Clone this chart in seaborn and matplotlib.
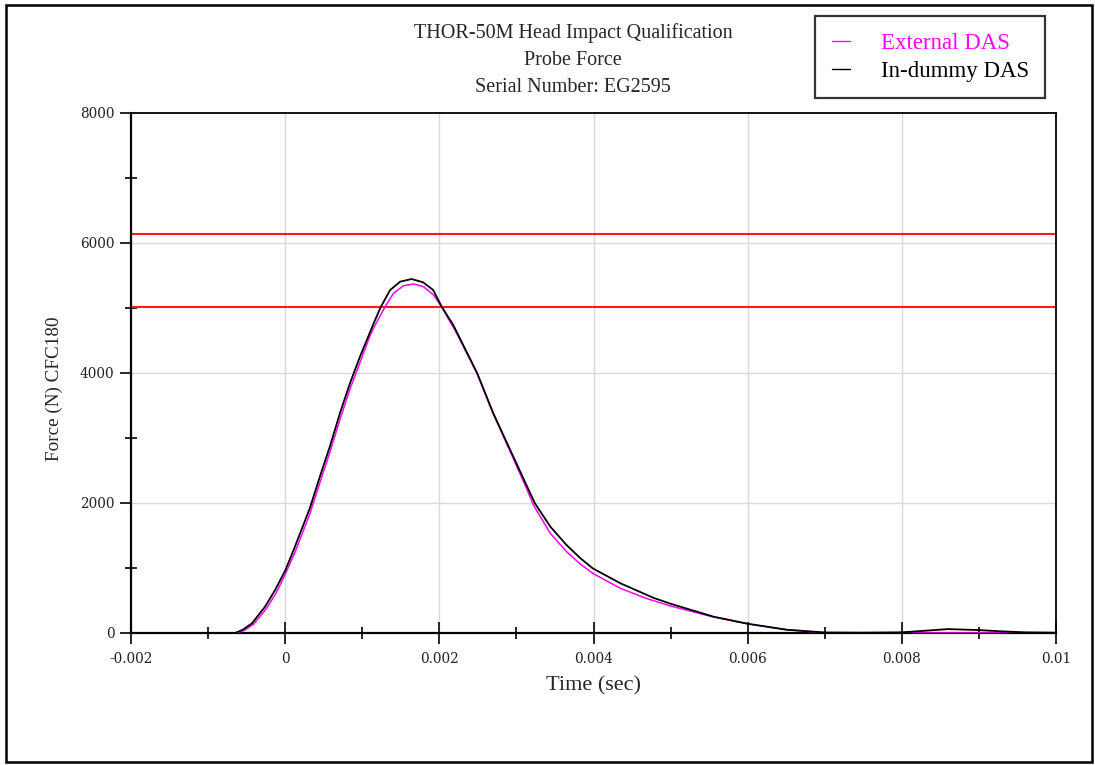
import numpy as np
import pandas as pd
import matplotlib
matplotlib.use("Agg")
import matplotlib.pyplot as plt
from matplotlib.patches import Rectangle
from matplotlib.ticker import MultipleLocator
import seaborn as sns

# ---- data (time in ms, force in N) ----
t_indummy_ms = [-0.65, -0.55, -0.43, -0.26, -0.13, 0.0, 0.11, 0.32, 0.45, 0.58, 0.71,
                0.84, 0.97, 1.15, 1.24, 1.362, 1.492, 1.64, 1.79, 1.92, 2.03, 2.18, 2.49,
                2.70, 2.92, 3.14, 3.24, 3.44, 3.65, 3.83, 3.99, 4.35, 4.78, 5.0, 5.56,
                6.01, 6.51, 7.0, 7.5, 8.0, 8.3, 8.6, 9.0, 9.3, 9.6, 10.0]
f_indummy = [0, 50, 150, 406, 662, 960, 1277, 1920, 2405, 2870, 3380,
             3840, 4250, 4770, 5015, 5277, 5405, 5446, 5395, 5277, 5020, 4740, 4000,
             3380, 2815, 2250, 1995, 1636, 1354, 1150, 995, 764, 540, 450, 250,
             140, 50, 8, 5, 10, 35, 60, 45, 25, 10, 5]

t_external_ms = [-0.63, -0.53, -0.41, -0.24, -0.11, 0.0, 0.13, 0.32, 0.45, 0.58, 0.71,
                 0.84, 0.97, 1.10, 1.168, 1.297, 1.405, 1.535, 1.665, 1.795, 1.925, 2.03,
                 2.23, 2.49, 2.70, 2.92, 3.14, 3.22, 3.44, 3.65, 3.83, 3.99, 4.35, 4.69,
                 5.0, 5.56, 6.01, 6.51, 7.0, 7.5, 8.0, 9.0, 10.0]
f_external = [0, 40, 135, 380, 630, 900, 1250, 1830, 2310, 2780, 3280,
              3750, 4160, 4570, 4740, 5020, 5225, 5343, 5369, 5328, 5200, 5020,
              4600, 3990, 3370, 2790, 2200, 1969, 1533, 1251, 1060, 918, 687, 530,
              415, 245, 140, 50, 3, 0, 0, 0, 0]

limits = [5015, 6140]

series_names = ["External DAS", "In-dummy DAS"]
series_colors = ["#ff00ff", "#000000"]

title_lines = ["THOR-50M Head Impact Qualification", "Probe Force", "Serial Number: EG2595"]
x_ticks = [-0.002, 0, 0.002, 0.004, 0.006, 0.008, 0.01]
x_ticklabels = ["-0.002", "0", "0.002", "0.004", "0.006", "0.008", "0.01"]
y_ticks = [0, 2000, 4000, 6000, 8000]

df = pd.concat([
    pd.DataFrame({"t": np.array(t_external_ms) / 1000.0, "F": f_external, "s": series_names[0]}),
    pd.DataFrame({"t": np.array(t_indummy_ms) / 1000.0, "F": f_indummy, "s": series_names[1]}),
])

sns.set_style("white")
plt.rcParams["font.family"] = ["Liberation Serif", "DejaVu Serif"]
plt.rcParams["lines.solid_joinstyle"] = "round"

fig = plt.figure(figsize=(10.95, 7.65), dpi=100)
ax = fig.add_axes([131 / 1095, 1 - 633 / 765, 925 / 1095, 520 / 765])

# grid
for xv in [0, 0.002, 0.004, 0.006, 0.008]:
    ax.axvline(xv, color="#d9d9d9", lw=1.0, zorder=0)
for yv in [2000, 4000, 6000]:
    ax.axhline(yv, color="#d9d9d9", lw=1.0, zorder=0)

for lim in limits:
    ax.axhline(lim, color="#ff1a1a", lw=1.5, zorder=2)

sns.lineplot(data=df[df.s == series_names[0]], x="t", y="F", color=series_colors[0],
             lw=1.1, ax=ax, estimator=None, sort=False, zorder=3, label=series_names[0])
sns.lineplot(data=df[df.s == series_names[1]], x="t", y="F", color=series_colors[1],
             lw=1.3, ax=ax, estimator=None, sort=False, zorder=4, label=series_names[1])

ax.set_xlim(-0.002, 0.01)
ax.set_ylim(0, 8000)
ax.set_xticks(x_ticks)
ax.set_xticklabels(x_ticklabels)
ax.set_yticks(y_ticks)
ax.xaxis.set_minor_locator(MultipleLocator(0.001))
ax.yaxis.set_minor_locator(MultipleLocator(1000))

ax.tick_params(axis="x", which="major", direction="inout", length=16, width=1.4,
               pad=6, labelsize=9.8, labelcolor="#222222", bottom=True)
ax.tick_params(axis="x", which="minor", direction="inout", length=9, width=1.4, bottom=True)
ax.tick_params(axis="y", which="major", direction="out", length=8, width=1.4,
               pad=4, labelsize=9.8, labelcolor="#222222", left=True)
ax.tick_params(axis="y", which="minor", direction="inout", length=9, width=1.4, left=True)
for lab in ax.get_xticklabels() + ax.get_yticklabels():
    lab.set_family("DejaVu Serif")

for side in ["left", "bottom", "top", "right"]:
    ax.spines[side].set_visible(True)
    ax.spines[side].set_color("black")
ax.spines["left"].set_linewidth(1.6)
ax.spines["bottom"].set_linewidth(1.6)
ax.spines["top"].set_linewidth(1.3)
ax.spines["right"].set_linewidth(1.3)

ax.set_xlabel("Time (sec)", fontsize=16)
ax.set_ylabel("Force (N) CFC180", fontsize=13.8)
ax.xaxis.set_label_coords(0.5, -0.083)
ax.yaxis.set_label_coords(-0.073, 0.47)

# title
for i, line in enumerate(title_lines):
    fig.text(573 / 1095, 1 - (33 + 27.5 * i) / 765, line, ha="center", va="center", fontsize=14.5)

# legend
if ax.get_legend():
    ax.get_legend().remove()
handles, labels = ax.get_legend_handles_labels()
leg = fig.legend(handles, labels, loc="upper left", bbox_to_anchor=(815 / 1095, 1 - 16 / 765),
                 fontsize=16.5, frameon=True, fancybox=False, edgecolor="black",
                 handlelength=0.8, handletextpad=1.35, labelspacing=0.32,
                 borderpad=0.72, borderaxespad=0)
leg.get_frame().set_linewidth(1.6)
for txt, col in zip(leg.get_texts(), series_colors):
    txt.set_color(col)
for h in leg.legend_handles:
    h.set_linewidth(1.0)

# outer figure border
fig.patches.append(Rectangle((6 / 1095, 3 / 765), 1086 / 1095, 757 / 765,
                             transform=fig.transFigure, fill=False, edgecolor="black", lw=1.8))

fig.savefig("out.png", dpi=100)
